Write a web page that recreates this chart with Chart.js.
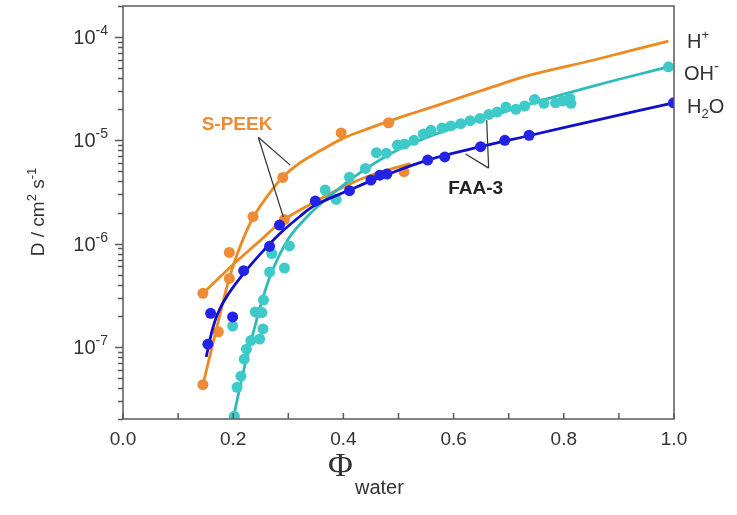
<!DOCTYPE html>
<html>
<head>
<meta charset="utf-8">
<script src="https://cdn.jsdelivr.net/npm/chart.js@4.4.0/dist/chart.umd.min.js"></script>
<style>
  body { margin: 0; background: #fff; }
  canvas { display: block; }
</style>
</head>
<body>
<canvas id="myChart" width="737" height="515"></canvas>
<script>
// S-PEEK, H+ : measured points
var hpX = [0.145, 0.173, 0.193, 0.236, 0.29, 0.396, 0.482];
var hpY = [4.3e-8, 1.4e-7, 4.6e-7, 1.82e-6, 4.37e-6, 1.18e-5, 1.48e-5];
// S-PEEK, H+ : fitted curve
var hpFitX = [0.145, 0.169, 0.194, 0.215, 0.236, 0.262, 0.29, 0.32, 0.36, 0.4, 0.44, 0.48, 0.53, 0.58, 0.66, 0.74, 0.86, 0.99];
var hpFitY = [4.27e-8, 1.45e-7, 4.84e-7, 1.01e-6, 1.78e-6, 2.88e-6, 4.41e-6, 6.0e-6, 8.05e-6, 1.05e-5, 1.27e-5, 1.52e-5, 1.86e-5, 2.27e-5, 3.15e-5, 4.3e-5, 6.1e-5, 9.15e-5];

// S-PEEK, H2O : points + fit
var swX = [0.145, 0.193, 0.293, 0.51];
var swY = [3.3e-7, 8.2e-7, 1.71e-6, 4.97e-6];
var swFitX = [0.1455, 0.1945, 0.2436, 0.2927, 0.3527, 0.4127, 0.4673, 0.5218];
var swFitY = [3.3e-7, 5.91e-7, 1.01e-6, 1.71e-6, 2.61e-6, 3.81e-6, 4.93e-6, 5.96e-6];

// FAA-3, OH- : points + fit
var ohX = [0.199, 0.202, 0.207, 0.214, 0.22, 0.224, 0.232, 0.24, 0.245, 0.248, 0.252, 0.254, 0.255, 0.266, 0.27, 0.293, 0.302,
           0.367, 0.387, 0.411, 0.44, 0.46, 0.478, 0.498, 0.511, 0.528, 0.545, 0.559, 0.579, 0.595, 0.613, 0.63, 0.648,
           0.664, 0.679, 0.695, 0.713, 0.729, 0.747, 0.764, 0.785, 0.798, 0.811, 0.813, 0.99];
var ohY = [1.59e-7, 2.13e-8, 4.05e-8, 5.2e-8, 7.6e-8, 9.5e-8, 1.15e-7, 2.18e-7, 2.15e-7, 1.19e-7, 2.15e-7, 1.49e-7, 2.84e-7, 5.3e-7, 8.0e-7, 5.8e-7, 9.5e-7,
           3.3e-6, 2.68e-6, 4.4e-6, 5.35e-6, 7.6e-6, 7.5e-6, 9.0e-6, 9.2e-6, 1.0e-5, 1.15e-5, 1.25e-5, 1.32e-5, 1.38e-5, 1.45e-5, 1.55e-5, 1.63e-5,
           1.78e-5, 1.88e-5, 2.1e-5, 2.0e-5, 2.15e-5, 2.49e-5, 2.28e-5, 2.31e-5, 2.41e-5, 2.55e-5, 2.28e-5, 5.15e-5];
var ohFitX = [0.2, 0.21, 0.22, 0.235, 0.25, 0.27, 0.3, 0.335, 0.365, 0.4, 0.44, 0.5, 0.55, 0.6, 0.66, 0.74, 0.86, 0.99];
var ohFitY = [2.0e-8, 3.6e-8, 6.2e-8, 1.28e-7, 2.54e-7, 5.3e-7, 1.11e-6, 1.84e-6, 2.6e-6, 3.69e-6, 5.27e-6, 8.13e-6, 1.06e-5, 1.32e-5, 1.66e-5, 2.27e-5, 3.43e-5, 5.15e-5];

// FAA-3, H2O : points + fit
var fwX = [0.154, 0.159, 0.199, 0.219, 0.266, 0.284, 0.349, 0.411, 0.45, 0.466, 0.479, 0.553, 0.584, 0.649, 0.693, 0.737, 0.999];
var fwY = [1.06e-7, 2.11e-7, 1.95e-7, 5.46e-7, 9.4e-7, 1.51e-6, 2.58e-6, 3.25e-6, 4.12e-6, 4.6e-6, 4.71e-6, 6.44e-6, 6.9e-6, 8.67e-6, 1.0e-5, 1.12e-5, 2.31e-5];
var fwFitX = [0.151, 0.162, 0.173, 0.191, 0.218, 0.249, 0.284, 0.322, 0.349, 0.411, 0.467, 0.553, 0.649, 0.74, 0.86, 0.999];
var fwFitY = [7.96e-8, 1.45e-7, 2.17e-7, 3.24e-7, 5.07e-7, 7.91e-7, 1.24e-6, 1.85e-6, 2.36e-6, 3.3e-6, 4.4e-6, 6.44e-6, 8.67e-6, 1.12e-5, 1.57e-5, 2.31e-5];

// axis ticks
var xTicks = [0.0, 0.2, 0.4, 0.6, 0.8, 1.0];
var yPowers = [-7, -6, -5, -4];

var orange = '#EF8A35', orangeLine = '#EC8A22';
var cyan = '#3FCACA', cyanLine = '#2FB9B9';
var blue = '#2323E6', blueLine = '#1010C8';

function pairs(xs, ys) {
  return xs.map(function (x, i) { return { x: x, y: ys[i] }; });
}

function fit(xs, ys, color, order) {
  return { data: pairs(xs, ys), showLine: true, borderColor: color, borderWidth: 2.8,
           pointRadius: 0, fill: false, tension: 0.35, order: order };
}
function dots(xs, ys, color, order) {
  return { data: pairs(xs, ys), showLine: false, backgroundColor: color, borderWidth: 0,
           pointRadius: 5.5, pointHoverRadius: 5.5, order: order };
}

// draw text made of pieces (for super/subscripts)
function richText(ctx, parts, x, y, align) {
  var w = 0;
  parts.forEach(function (p) { ctx.font = p.f; p.w = ctx.measureText(p.t).width; w += p.w; });
  var cx = align === 'right' ? x - w : (align === 'center' ? x - w / 2 : x);
  parts.forEach(function (p) {
    ctx.font = p.f;
    ctx.fillText(p.t, cx, y + (p.dy || 0));
    cx += p.w;
  });
}

var decor = {
  id: 'decor',
  afterDraw: function (chart) {
    var ctx = chart.ctx, a = chart.chartArea, sx = chart.scales.x, sy = chart.scales.y;
    ctx.save();
    // frame
    ctx.strokeStyle = '#5a5a5a';
    ctx.lineWidth = 1.5;
    ctx.strokeRect(a.left, a.top, a.right - a.left, a.bottom - a.top);

    // x ticks (inside), every 0.1
    ctx.beginPath();
    for (var i = 0; i <= 10; i++) {
      var px = sx.getPixelForValue(i / 10);
      ctx.moveTo(px, a.bottom);
      ctx.lineTo(px, a.bottom - 6);
    }
    ctx.stroke();

    // y ticks (outside), log minors
    ctx.beginPath();
    for (var p = -8; p <= -4; p++) {
      for (var m = 1; m <= 9; m++) {
        var v = m * Math.pow(10, p);
        if (v < sy.min * 0.999 || v > sy.max * 1.001) continue;
        var py = Math.round(sy.getPixelForValue(v)) + 0.5;
        ctx.moveTo(a.left, py);
        ctx.lineTo(a.left - (m === 1 ? 8 : 5), py);
      }
    }
    ctx.stroke();

    ctx.fillStyle = '#333';
    ctx.textBaseline = 'alphabetic';
    // x tick labels
    ctx.font = '19px Arial';
    ctx.textAlign = 'center';
    xTicks.forEach(function (t) {
      ctx.fillText(t.toFixed(1), sx.getPixelForValue(t), a.bottom + 26);
    });
    ctx.textAlign = 'left';
    // y tick labels 10^n
    yPowers.forEach(function (n) {
      var py = sy.getPixelForValue(Math.pow(10, n));
      richText(ctx, [
        { t: '10', f: '20px Arial', dy: 0 },
        { t: '-' + Math.abs(n), f: '14px Arial', dy: -9 }
      ], a.left - 15, py + 7, 'right');
    });

    // y axis title
    ctx.save();
    ctx.translate(44, 212);
    ctx.rotate(-Math.PI / 2);
    richText(ctx, [
      { t: 'D / cm', f: '19px Arial' },
      { t: '2', f: '13px Arial', dy: -8 },
      { t: ' s', f: '19px Arial' },
      { t: '-1', f: '13px Arial', dy: -8 }
    ], 0, 0, 'center');
    ctx.restore();

    // x axis title
    ctx.font = '34px "Liberation Serif", "DejaVu Serif", serif';
    ctx.fillText('\u03A6', 328, 476);
    ctx.font = '20px Arial';
    ctx.fillText('water', 355, 494);

    // right-hand labels
    var rx = a.right + 13;
    richText(ctx, [{ t: 'H', f: '20px Arial' }, { t: '+', f: '13px Arial', dy: -9 }], rx, 48, 'left');
    richText(ctx, [{ t: 'OH', f: '20px Arial' }, { t: '-', f: '15px Arial', dy: -9 }], rx - 3, 80, 'left');
    richText(ctx, [{ t: 'H', f: '20px Arial' }, { t: '2', f: '13px Arial', dy: 5 }, { t: 'O', f: '20px Arial' }], rx, 113, 'left');

    // S-PEEK label + pointers
    ctx.strokeStyle = '#333';
    ctx.lineWidth = 1.2;
    var s0x = sx.getPixelForValue(0.2455), s0y = sy.getPixelForValue(1.07e-5);
    ctx.beginPath();
    ctx.moveTo(s0x, s0y); ctx.lineTo(sx.getPixelForValue(0.3036), sy.getPixelForValue(5.75e-6));
    ctx.moveTo(s0x, s0y); ctx.lineTo(sx.getPixelForValue(0.291), sy.getPixelForValue(1.81e-6));
    ctx.stroke();
    ctx.fillStyle = orange;
    ctx.font = 'bold 19px Arial';
    ctx.textAlign = 'center';
    ctx.fillText('S-PEEK', sx.getPixelForValue(0.207), sy.getPixelForValue(1.47e-5) + 7);

    // FAA-3 label + pointers
    var f0x = sx.getPixelForValue(0.6636), f0y = sy.getPixelForValue(5.38e-6);
    ctx.beginPath();
    ctx.moveTo(f0x, f0y); ctx.lineTo(sx.getPixelForValue(0.66), sy.getPixelForValue(1.57e-5));
    ctx.moveTo(f0x, f0y); ctx.lineTo(sx.getPixelForValue(0.6218), sy.getPixelForValue(7.36e-6));
    ctx.stroke();
    ctx.fillStyle = '#222';
    ctx.fillText('FAA-3', sx.getPixelForValue(0.64), sy.getPixelForValue(3.52e-6) + 7);
    ctx.restore();
  }
};

var ctx = document.getElementById('myChart').getContext('2d');
var myChart = new Chart(ctx, {
  type: 'scatter',
  data: {
    datasets: [
      fit(fwFitX, fwFitY, blueLine, 1),
      dots(fwX, fwY, blue, 0),
      fit(ohFitX, ohFitY, cyanLine, 3),
      dots(ohX, ohY, cyan, 2),
      fit(hpFitX, hpFitY, orangeLine, 5),
      dots(hpX, hpY, orange, 4),
      fit(swFitX, swFitY, orangeLine, 5),
      dots(swX, swY, orange, 4)
    ]
  },
  options: {
    responsive: false,
    animation: false,
    layout: { padding: { left: 123, right: 63, top: 6, bottom: 96 } },
    plugins: { legend: { display: false }, tooltip: { enabled: false } },
    scales: {
      x: { type: 'linear', min: 0, max: 1, display: false },
      y: { type: 'logarithmic', min: 2e-8, max: 2e-4, display: false }
    }
  },
  plugins: [decor]
});
</script>
</body>
</html>
